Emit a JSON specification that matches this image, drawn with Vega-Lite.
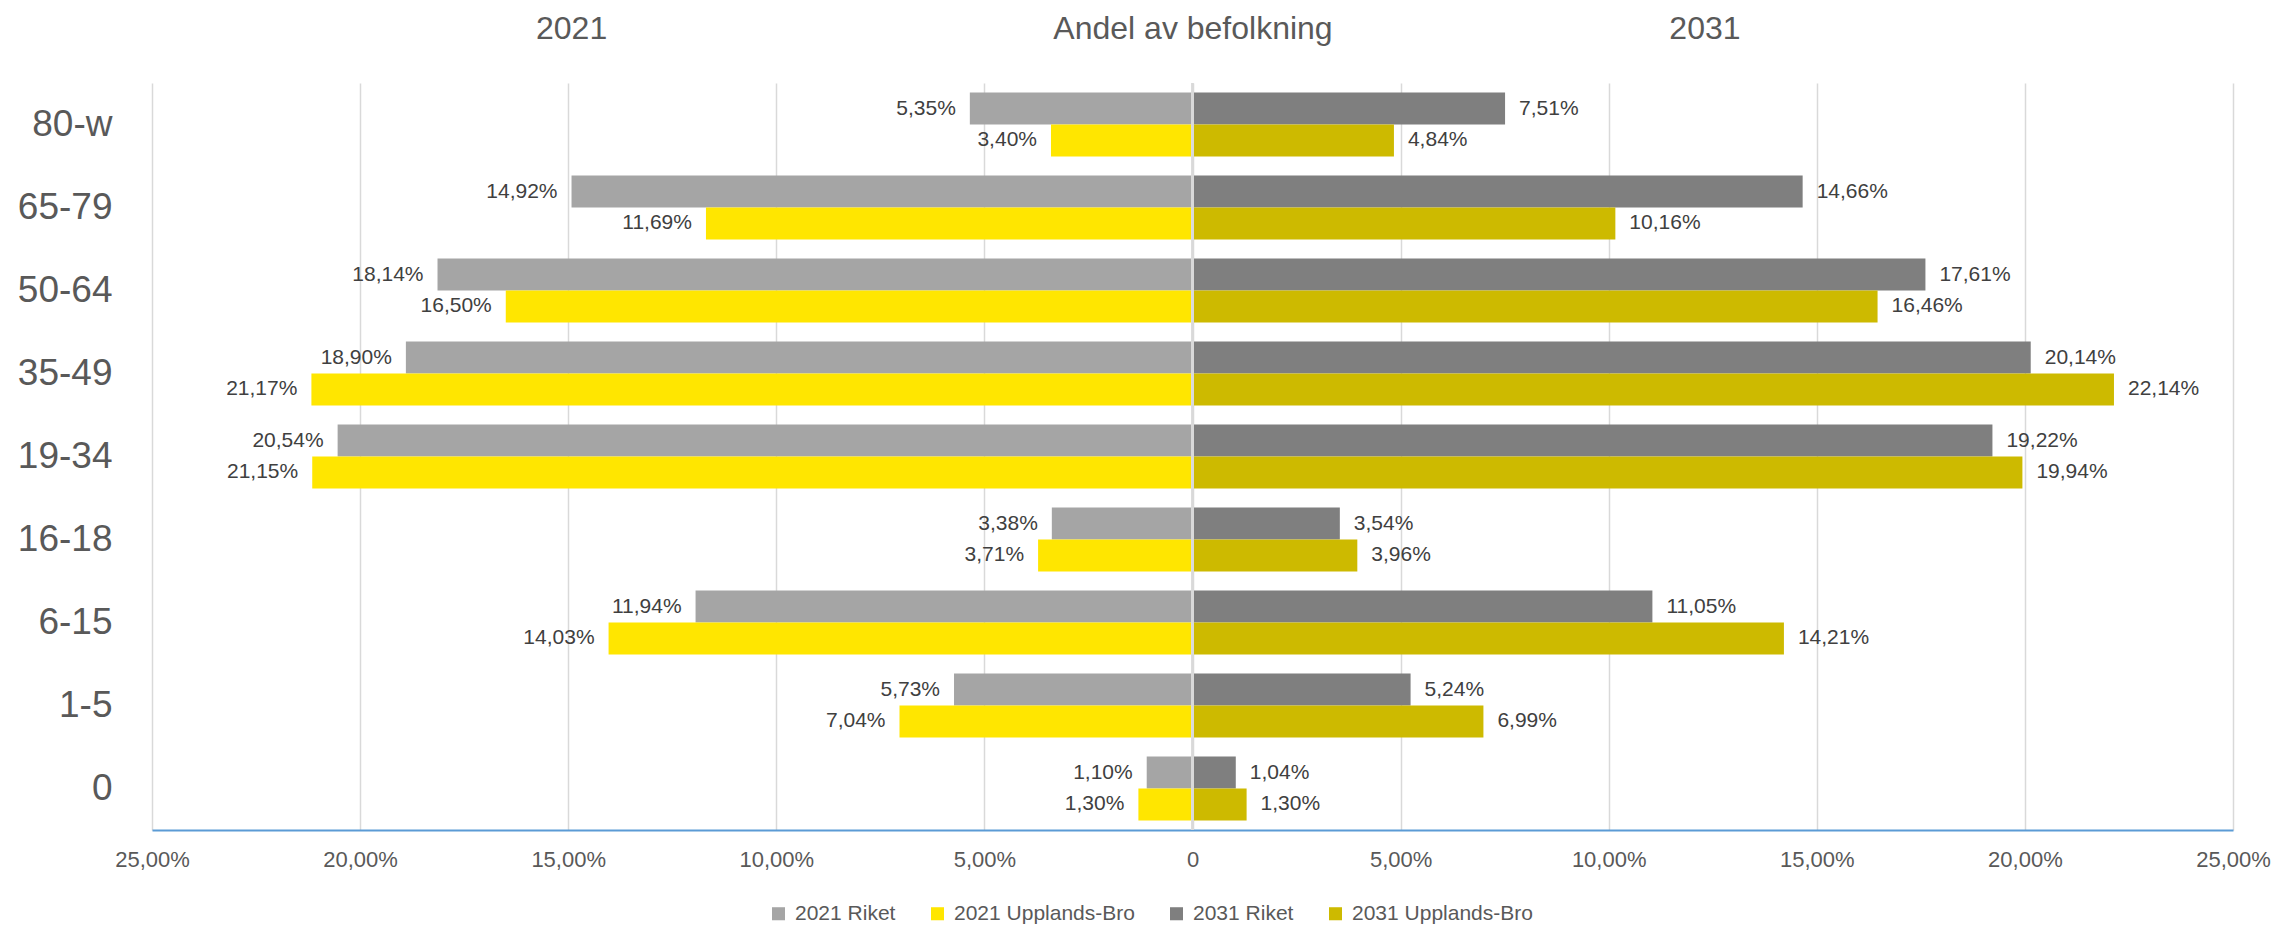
{
  "$schema": "https://vega.github.io/schema/vega-lite/v6.json",
  "width": 2081,
  "height": 747,
  "autosize": {"type": "none"},
  "padding": {"left": 152, "top": 83, "right": 45, "bottom": 96},
  "background": "white",
  "config": {"view": {"stroke": null}, "font": "Liberation Sans"},
  "data": {"values": [
    {"age": "80-w", "series": "2021 Riket", "region": "Riket", "value": -5.35},
    {"age": "80-w", "series": "2021 Upplands-Bro", "region": "Upplands-Bro", "value": -3.40},
    {"age": "80-w", "series": "2031 Riket", "region": "Riket", "value": 7.51},
    {"age": "80-w", "series": "2031 Upplands-Bro", "region": "Upplands-Bro", "value": 4.84},
    {"age": "65-79", "series": "2021 Riket", "region": "Riket", "value": -14.92},
    {"age": "65-79", "series": "2021 Upplands-Bro", "region": "Upplands-Bro", "value": -11.69},
    {"age": "65-79", "series": "2031 Riket", "region": "Riket", "value": 14.66},
    {"age": "65-79", "series": "2031 Upplands-Bro", "region": "Upplands-Bro", "value": 10.16},
    {"age": "50-64", "series": "2021 Riket", "region": "Riket", "value": -18.14},
    {"age": "50-64", "series": "2021 Upplands-Bro", "region": "Upplands-Bro", "value": -16.50},
    {"age": "50-64", "series": "2031 Riket", "region": "Riket", "value": 17.61},
    {"age": "50-64", "series": "2031 Upplands-Bro", "region": "Upplands-Bro", "value": 16.46},
    {"age": "35-49", "series": "2021 Riket", "region": "Riket", "value": -18.90},
    {"age": "35-49", "series": "2021 Upplands-Bro", "region": "Upplands-Bro", "value": -21.17},
    {"age": "35-49", "series": "2031 Riket", "region": "Riket", "value": 20.14},
    {"age": "35-49", "series": "2031 Upplands-Bro", "region": "Upplands-Bro", "value": 22.14},
    {"age": "19-34", "series": "2021 Riket", "region": "Riket", "value": -20.54},
    {"age": "19-34", "series": "2021 Upplands-Bro", "region": "Upplands-Bro", "value": -21.15},
    {"age": "19-34", "series": "2031 Riket", "region": "Riket", "value": 19.22},
    {"age": "19-34", "series": "2031 Upplands-Bro", "region": "Upplands-Bro", "value": 19.94},
    {"age": "16-18", "series": "2021 Riket", "region": "Riket", "value": -3.38},
    {"age": "16-18", "series": "2021 Upplands-Bro", "region": "Upplands-Bro", "value": -3.71},
    {"age": "16-18", "series": "2031 Riket", "region": "Riket", "value": 3.54},
    {"age": "16-18", "series": "2031 Upplands-Bro", "region": "Upplands-Bro", "value": 3.96},
    {"age": "6-15", "series": "2021 Riket", "region": "Riket", "value": -11.94},
    {"age": "6-15", "series": "2021 Upplands-Bro", "region": "Upplands-Bro", "value": -14.03},
    {"age": "6-15", "series": "2031 Riket", "region": "Riket", "value": 11.05},
    {"age": "6-15", "series": "2031 Upplands-Bro", "region": "Upplands-Bro", "value": 14.21},
    {"age": "1-5", "series": "2021 Riket", "region": "Riket", "value": -5.73},
    {"age": "1-5", "series": "2021 Upplands-Bro", "region": "Upplands-Bro", "value": -7.04},
    {"age": "1-5", "series": "2031 Riket", "region": "Riket", "value": 5.24},
    {"age": "1-5", "series": "2031 Upplands-Bro", "region": "Upplands-Bro", "value": 6.99},
    {"age": "0", "series": "2021 Riket", "region": "Riket", "value": -1.10},
    {"age": "0", "series": "2021 Upplands-Bro", "region": "Upplands-Bro", "value": -1.30},
    {"age": "0", "series": "2031 Riket", "region": "Riket", "value": 1.04},
    {"age": "0", "series": "2031 Upplands-Bro", "region": "Upplands-Bro", "value": 1.30}
  ]},
  "resolve": {"axis": {"x": "independent"}},
  "layer": [
    {
      "mark": {"type": "bar"},
      "encoding": {
        "y": {
          "field": "age", "type": "nominal",
          "sort": ["80-w", "65-79", "50-64", "35-49", "19-34", "16-18", "6-15", "1-5", "0"],
          "scale": {"paddingInner": 0.23, "paddingOuter": 0.115},
          "axis": {"title": null, "domain": false, "ticks": false, "tickSize": 0, "labelPadding": 40, "labelFontSize": 37, "labelColor": "#595959", "grid": false, "labelLimit": 0}
        },
        "yOffset": {"field": "region", "type": "nominal", "sort": ["Riket", "Upplands-Bro"]},
        "x": {
          "field": "value", "type": "quantitative",
          "scale": {"domain": [-25, 25], "nice": false},
          "axis": {
            "orient": "bottom", "title": null,
            "values": [-25, -20, -15, -10, -5, 0, 5, 10, 15, 20, 25],
            "grid": true, "gridColor": "#D9D9D9", "gridWidth": 1.5,
            "domainColor": "#5B9BD5", "domainWidth": 2,
            "ticks": false, "tickSize": 0, "labelPadding": 19,
            "labelFontSize": 22, "labelColor": "#595959",
            "labelFlush": false, "labelOverlap": false, "labelBound": false,
            "labelExpr": "datum.value == 0 ? '0' : replace(format(abs(datum.value), '.2f'), '.', ',') + '%'"
          }
        },
        "color": {
          "field": "series", "type": "nominal",
          "scale": {
            "domain": ["2021 Riket", "2021 Upplands-Bro", "2031 Riket", "2031 Upplands-Bro"],
            "range": ["#A5A5A5", "#FFE600", "#7F7F7F", "#CDBA00"]
          },
          "legend": {
            "title": null, "orient": "none", "direction": "horizontal", "columns": 4,
            "legendX": 616, "legendY": 820,
            "symbolType": "square", "symbolSize": 170, "symbolStrokeWidth": 0,
            "labelFontSize": 21, "labelColor": "#595959", "labelOffset": 6, "labelLimit": 0,
            "columnPadding": 31
          }
        }
      }
    },
    {
      "transform": [{"filter": "datum.value < 0"}],
      "mark": {"type": "text", "align": "right", "baseline": "middle", "dx": -14, "fontSize": 21, "color": "#404040",
               "text": {"expr": "replace(format(abs(datum.value), '.2f'), '.', ',') + '%'"}},
      "encoding": {
        "y": {"field": "age", "type": "nominal", "sort": ["80-w", "65-79", "50-64", "35-49", "19-34", "16-18", "6-15", "1-5", "0"]},
        "yOffset": {"field": "region", "type": "nominal", "sort": ["Riket", "Upplands-Bro"]},
        "x": {"field": "value", "type": "quantitative", "axis": null}
      }
    },
    {
      "transform": [{"filter": "datum.value > 0"}],
      "mark": {"type": "text", "align": "left", "baseline": "middle", "dx": 14, "fontSize": 21, "color": "#404040",
               "text": {"expr": "replace(format(abs(datum.value), '.2f'), '.', ',') + '%'"}},
      "encoding": {
        "y": {"field": "age", "type": "nominal", "sort": ["80-w", "65-79", "50-64", "35-49", "19-34", "16-18", "6-15", "1-5", "0"]},
        "yOffset": {"field": "region", "type": "nominal", "sort": ["Riket", "Upplands-Bro"]},
        "x": {
          "field": "value", "type": "quantitative",
          "axis": {
            "orient": "top", "title": null, "values": [-14.93, 0, 12.3],
            "grid": false, "domain": false, "ticks": false, "tickSize": 0,
            "labelPadding": 45, "labelBaseline": "alphabetic",
            "labelFontSize": 32, "labelColor": "#595959", "labelLimit": 0,
            "labelFlush": false, "labelOverlap": false, "labelBound": false,
            "labelExpr": "datum.value < -1 ? '2021' : (datum.value > 1 ? '2031' : 'Andel av befolkning')"
          }
        }
      }
    },
    {
      "mark": {"type": "rule", "color": "#D9D9D9", "strokeWidth": 1.5},
      "encoding": {"x": {"datum": 0, "type": "quantitative", "axis": null}}
    }
  ]
}
